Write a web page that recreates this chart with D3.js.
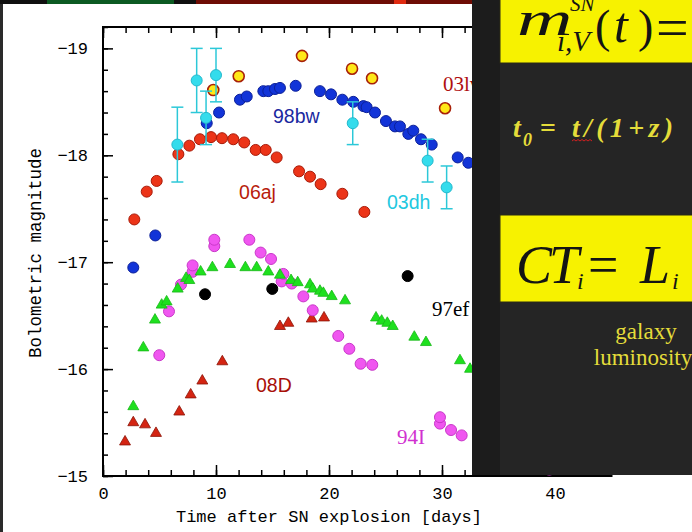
<!DOCTYPE html>
<html>
<head>
<meta charset="utf-8">
<script src="https://cdn.jsdelivr.net/npm/d3@7"></script>
<style>
  body { margin: 0; background: #fff; }
  svg { display: block; }
</style>
</head>
<body>
<div id="chart"></div>
<script>
// [days after explosion, bolometric magnitude]
const sn98bw = [[2.68,-16.95],[4.63,-17.25],[9.18,-18.30],[10.27,-18.40],[12.12,-18.52],[12.72,-18.55],
  [14.19,-18.60],[14.63,-18.60],[15.22,-18.62],[15.66,-18.63],[17.05,-18.65],[19.20,-18.60],[20.18,-18.57],
  [21.18,-18.52],[22.15,-18.50],[23.04,-18.46],[23.33,-18.45],[24.07,-18.40],[25.04,-18.32],[25.84,-18.27],
  [26.28,-18.27],[27.02,-18.20],[27.46,-18.23],[28.14,-18.15],[29.09,-18.10],[31.39,-17.98],[32.33,-17.93]];
const sn06aj = [[2.77,-17.40],[3.87,-17.66],[4.75,-17.76],[6.67,-18.01],[7.64,-18.09],[8.58,-18.15],
  [9.56,-18.17],[10.53,-18.16],[11.53,-18.15],[12.50,-18.12],[13.51,-18.05],[14.40,-18.05],[15.37,-17.98],
  [17.35,-17.85],[18.32,-17.80],[19.26,-17.73],[21.18,-17.64],[23.13,-17.47]];
const sn03lw = [[9.76,-18.61],[12.01,-18.74],[17.61,-18.93],[22.04,-18.81],[23.81,-18.72],[30.27,-18.44]];
const sn03dh = [[6.58,-18.10],[8.29,-18.70],[9.12,-18.35],[10.00,-18.75],[22.10,-18.30],[28.73,-17.95],[30.41,-17.70]];
const sn03dhErr = [0.35, 0.30, 0.25, 0.25, 0.20, 0.20, 0.20];
const sn97ef = [[9.03,-16.70],[14.98,-16.75],[26.96,-16.87]];
const sn94I = [[4.98,-16.13],[5.84,-16.54],[6.90,-16.79],[7.93,-16.91],[7.93,-16.97],[9.85,-17.15],
  [9.85,-17.21],[12.95,-17.21],[13.95,-17.09],[14.87,-17.03],[15.81,-16.82],[15.96,-16.89],[16.70,-16.80],
  [17.73,-16.68],[18.56,-16.55],[20.82,-16.31],[21.80,-16.19],[22.80,-16.05],[23.83,-16.04],[29.82,-15.49],
  [29.82,-15.55],[30.80,-15.43],[31.74,-15.38],[39.5,-15.06]];
const snGreen = [[2.68,-15.65],[3.57,-16.20],[4.60,-16.46],[5.19,-16.60],[5.63,-16.63],[6.61,-16.75],
  [7.35,-16.85],[7.64,-16.83],[8.64,-16.91],[9.68,-16.95],[11.24,-16.98],[12.60,-16.95],[13.60,-16.95],
  [14.63,-16.91],[15.66,-16.88],[16.64,-16.83],[17.23,-16.81],[18.32,-16.79],[18.56,-16.75],[19.20,-16.73],
  [19.50,-16.71],[20.24,-16.68],[21.42,-16.64],[24.16,-16.48],[24.66,-16.45],[25.16,-16.43],[25.64,-16.40],
  [27.55,-16.30],[28.58,-16.25],[31.59,-16.08],[32.48,-16.00]];
const sn08D = [[1.95,-15.32],[2.68,-15.50],[3.72,-15.48],[4.69,-15.40],[6.75,-15.60],[7.76,-15.76],
  [8.79,-15.89],[10.56,-16.07],[15.66,-16.40],[16.40,-16.43],[18.47,-16.47],[19.56,-16.48]];

const xTicks = [0, 10, 20, 30, 40];
const yTicks = [-19, -18, -17, -16, -15];
const labelNames = ['98bw', '06aj', '03lw', '03dh', '97ef', '08D', '94I'];
const labelAt = [[15.04,-18.30],[12.04,-17.59],[30.09,-18.60],[25.13,-17.50],[29.12,-16.50],[13.54,-15.79],[26.02,-15.30]];

const width = 692;
const height = 532;
const mono = '"Liberation Mono", "DejaVu Sans Mono", monospace';
const serif = '"Liberation Serif", "DejaVu Serif", serif';
const sans = '"Liberation Sans", Arial, sans-serif';

const svg = d3.select('#chart')
    .append('svg')
    .attr('width', width)
    .attr('height', height);

svg.append('rect').attr('width', width).attr('height', height).attr('fill', '#fff');

const x = d3.scaleLinear().domain([0, 45]).range([103, 103 + 45 * 11.3]);
const y = d3.scaleLinear().domain([-15, -19.2]).range([476, 27]);

// axes, ticks pointing inward
function styleAxis(g) {
    g.select('.domain').remove();
    g.selectAll('line').attr('stroke', '#000').attr('stroke-width', 1.5);
    g.selectAll('text').attr('font-family', mono).attr('font-size', 17).attr('fill', '#000');
}
svg.append('g').attr('transform', 'translate(0,476)')
    .call(d3.axisBottom(x).tickValues(d3.range(0, 46, 2)).tickSize(-6).tickFormat(''))
    .call(styleAxis);
svg.append('g').attr('transform', 'translate(0,476)')
    .call(d3.axisBottom(x).tickValues(xTicks).tickSize(-11).tickPadding(11).tickFormat(d3.format('d')))
    .call(styleAxis);
svg.append('g').attr('transform', 'translate(0,27)')
    .call(d3.axisTop(x).tickValues(d3.range(0, 46, 2)).tickSize(-6).tickFormat(''))
    .call(styleAxis);
svg.append('g').attr('transform', 'translate(0,27)')
    .call(d3.axisTop(x).tickValues(xTicks).tickSize(-11).tickFormat(''))
    .call(styleAxis);
svg.append('g').attr('transform', 'translate(103,0)')
    .call(d3.axisLeft(y).tickValues(d3.range(0, 22).map(i => -15 - i * 0.2)).tickSize(-5).tickFormat(''))
    .call(styleAxis);
svg.append('g').attr('transform', 'translate(103,0)')
    .call(d3.axisLeft(y).tickValues(yTicks).tickSize(-10).tickPadding(15).tickFormat(d3.format('d')))
    .call(styleAxis);

svg.append('rect')
    .attr('x', x(0)).attr('y', y(-19.2))
    .attr('width', x(45) - x(0)).attr('height', y(-15) - y(-19.2))
    .attr('fill', 'none').attr('stroke', '#000').attr('stroke-width', 2);

svg.append('text')
    .attr('x', 329).attr('y', 522)
    .attr('text-anchor', 'middle')
    .attr('font-family', mono).attr('font-size', 17)
    .text('Time after SN explosion [days]');
svg.append('text')
    .attr('transform', 'translate(41,253) rotate(-90)')
    .attr('text-anchor', 'middle')
    .attr('font-family', mono).attr('font-size', 17.5)
    .text('Bolometric magnitude');

// marks
function dots(data, fill, stroke) {
    svg.append('g').selectAll('circle')
        .data(data)
        .join('circle')
        .attr('cx', d => x(d[0]))
        .attr('cy', d => y(d[1]))
        .attr('r', 5.5)
        .attr('fill', fill)
        .attr('stroke', stroke)
        .attr('stroke-width', 1);
}
function triangles(data, fill, stroke) {
    svg.append('g').selectAll('path')
        .data(data)
        .join('path')
        .attr('transform', d => `translate(${x(d[0])},${y(d[1])})`)
        .attr('d', d3.symbol(d3.symbolTriangle, 52))
        .attr('fill', fill)
        .attr('stroke', stroke)
        .attr('stroke-width', 0.8);
}

triangles(sn08D, '#d42412', '#8a1408');
dots(sn94I, '#f056f0', '#c838c8');
triangles(snGreen, '#1ee01e', '#18b818');
dots(sn97ef, '#000', '#000');
dots(sn06aj, '#ec3418', '#a81a08');
dots(sn98bw, '#1234d8', '#0c2098');

svg.append('g').selectAll('circle')
    .data(sn03lw)
    .join('circle')
    .attr('cx', d => x(d[0]))
    .attr('cy', d => y(d[1]))
    .attr('r', 5.5)
    .attr('fill', '#ffe818')
    .attr('stroke', '#a82008')
    .attr('stroke-width', 1.6);

// 03dh error bars
const eb = svg.append('g').attr('stroke', '#2cc8d8').attr('stroke-width', 1.5);
sn03dh.forEach((d, i) => {
    const cx = x(d[0]);
    const y1 = y(d[1] - sn03dhErr[i]);
    const y2 = y(d[1] + sn03dhErr[i]);
    eb.append('line').attr('x1', cx).attr('x2', cx).attr('y1', y1).attr('y2', y2);
    eb.append('line').attr('x1', cx - 6).attr('x2', cx + 6).attr('y1', y1).attr('y2', y1);
    eb.append('line').attr('x1', cx - 6).attr('x2', cx + 6).attr('y1', y2).attr('y2', y2);
});
dots(sn03dh, '#34dcec', '#22b8cc');

// series labels
const labelColors = ['#1a28a0', '#b81c0c', '#b01010', '#22c8e0', '#000', '#a81008', '#d030d0'];
const labelFonts = [sans, sans, serif, sans, serif, sans, serif];
svg.append('g').selectAll('text')
    .data(labelNames)
    .join('text')
    .attr('x', (d, i) => x(labelAt[i][0]))
    .attr('y', (d, i) => y(labelAt[i][1]))
    .attr('font-family', (d, i) => labelFonts[i])
    .attr('font-size', (d, i) => labelFonts[i] === serif ? 21 : 19.5)
    .attr('fill', (d, i) => labelColors[i])
    .text(d => d);

// overlapping slide panel
svg.append('rect').attr('x', 0).attr('y', 0).attr('width', 3).attr('height', height).attr('fill', '#2a2a2a');
svg.append('rect').attr('x', 0).attr('y', 0).attr('width', 472).attr('height', 4).attr('fill', '#101010');
svg.append('rect').attr('x', 47).attr('y', 0).attr('width', 127).attr('height', 4).attr('fill', '#0c5a22');
svg.append('rect').attr('x', 196).attr('y', 0).attr('width', 276).attr('height', 4).attr('fill', '#6e0c04');
svg.append('rect').attr('x', 394).attr('y', 0).attr('width', 12).attr('height', 4).attr('fill', '#e02a10');

const panel = svg.append('g');
panel.append('rect').attr('x', 472).attr('y', 0).attr('width', 220).attr('height', 475).attr('fill', '#252525');
panel.append('rect').attr('x', 472).attr('y', 0).attr('width', 28).attr('height', 475).attr('fill', '#1c1c1c');
panel.append('rect').attr('x', 500).attr('y', -2).attr('width', 194).attr('height', 65)
    .attr('fill', '#f7f200').attr('stroke', '#2a2a14').attr('stroke-width', 1);
panel.append('rect').attr('x', 500).attr('y', 215).attr('width', 194).attr('height', 87)
    .attr('fill', '#f7f200').attr('stroke', '#2a2a14').attr('stroke-width', 1);

const eqFill = '#141414';
const eq1 = panel.append('g').attr('font-family', serif).attr('fill', eqFill);
eq1.append('text').attr('transform', 'translate(517,35) scale(1.6,1)')
    .attr('font-style', 'italic').attr('font-size', 48).text('m');
eq1.append('text').attr('x', 570).attr('y', 11).attr('font-style', 'italic').attr('font-size', 21).text('SN');
eq1.append('text').attr('x', 557).attr('y', 51).attr('font-style', 'italic').attr('font-size', 29).text('i,V');
eq1.append('text').attr('x', 595).attr('y', 42).attr('font-size', 46).text('(');
eq1.append('text').attr('x', 614).attr('y', 42).attr('font-style', 'italic').attr('font-size', 50).text('t');
eq1.append('text').attr('x', 638).attr('y', 42).attr('font-size', 46).text(')');
eq1.append('text').attr('x', 656).attr('y', 47).attr('font-size', 58).text('=');

const eq2 = panel.append('g').attr('font-family', serif).attr('fill', eqFill);
eq2.append('text').attr('x', 516).attr('y', 283).attr('font-style', 'italic').attr('font-size', 54).text('C');
eq2.append('text').attr('x', 549).attr('y', 283).attr('font-style', 'italic').attr('font-size', 54).text('T');
eq2.append('text').attr('x', 577).attr('y', 289).attr('font-style', 'italic').attr('font-size', 24).text('i');
eq2.append('text').attr('x', 588).attr('y', 283).attr('font-size', 54).text('=');
eq2.append('text').attr('x', 640).attr('y', 283).attr('font-style', 'italic').attr('font-size', 54).text('L');
eq2.append('text').attr('x', 672).attr('y', 289).attr('font-style', 'italic').attr('font-size', 24).text('i');

const yel = '#e4dc3a';
panel.append('text').attr('x', 513).attr('y', 137).attr('font-family', serif).attr('font-style', 'italic')
    .attr('font-weight', 'bold').attr('font-size', 28).attr('fill', yel).text('t');
panel.append('text').attr('x', 523).attr('y', 146).attr('font-family', serif).attr('font-style', 'italic')
    .attr('font-weight', 'bold').attr('font-size', 18).attr('fill', yel).text('0');
panel.append('text').attr('x', 540).attr('y', 137).attr('font-family', serif)
    .attr('font-weight', 'bold').attr('font-size', 28).attr('fill', yel).text('=');
panel.append('text').attr('x', 572).attr('y', 137).attr('font-family', serif).attr('font-style', 'italic')
    .attr('font-weight', 'bold').attr('font-size', 28).attr('fill', yel)
    .attr('textLength', 101).attr('lengthAdjust', 'spacing').text('t/(1+z)');
panel.append('path')
    .attr('d', 'M572,141 l2,-1.5 l2,1.5 l2,-1.5 l2,1.5 l2,-1.5 l2,1.5 l2,-1.5 l2,1.5 l2,-1.5 l2,1.5')
    .attr('fill', 'none').attr('stroke', '#d02020').attr('stroke-width', 1);

panel.append('text').attr('x', 646).attr('y', 339).attr('text-anchor', 'middle').attr('font-family', serif)
    .attr('font-size', 23).attr('fill', yel).text('galaxy');
panel.append('text').attr('x', 643).attr('y', 365).attr('text-anchor', 'middle').attr('font-family', serif)
    .attr('font-size', 23).attr('fill', yel).text('luminosity');
</script>
</body>
</html>
